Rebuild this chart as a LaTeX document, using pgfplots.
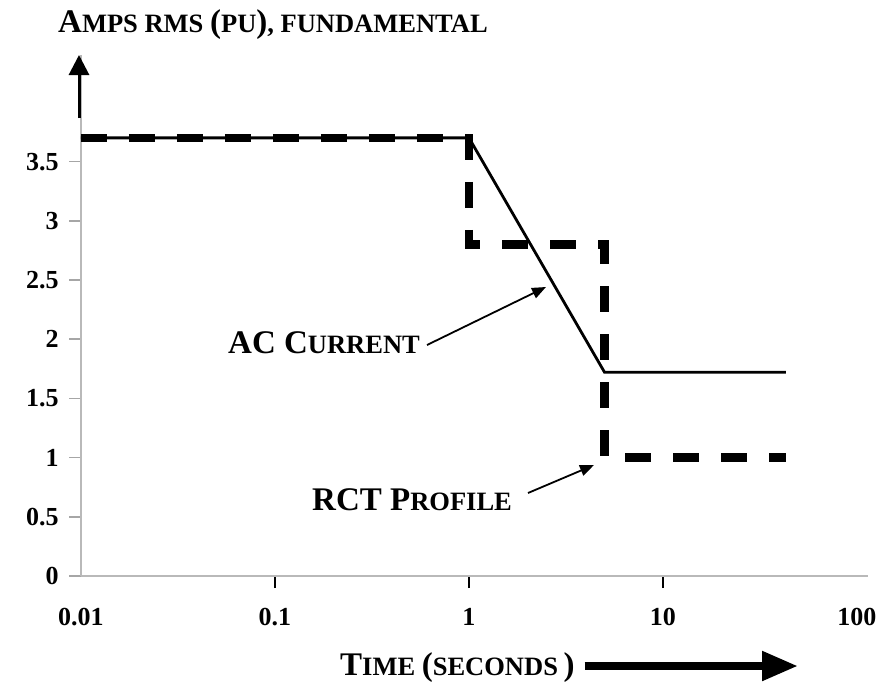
\documentclass[border=0pt]{standalone}
\usepackage{fontspec}
\setmainfont{Liberation Serif}
\usepackage{pgfplots}
\pgfplotsset{compat=1.18}
\usetikzlibrary{arrows.meta}
\newcommand{\BC}[1]{{\fontsize{33}{33}\selectfont #1}}
\newcommand{\SC}[1]{{\fontsize{26.5}{26.5}\selectfont #1}}
\begin{document}
\begin{tikzpicture}
\begin{axis}[
 at={(81pt,-576pt)}, anchor=south west,
 scale only axis, width=787pt, height=521pt,
 xmode=log, xmin=0.01, xmax=114, ymin=0, ymax=4.4,
 axis x line=bottom, axis y line=left,
 axis line style={draw=gray!55, line width=1.6pt, -},
 xtick={0.1,1,10}, xticklabels={0.1,1,10},
 extra x ticks={0.01,100}, extra x tick labels={0.01,100},
 extra x tick style={xtick style={draw=none}},
 xminorticks=false,
 ytick={0,0.5,1,1.5,2,2.5,3,3.5}, yticklabels={0,0.5,1,1.5,2,2.5,3,3.5},
 tick align=outside, major tick length=12pt,
 xtick style={black, line width=2pt},
 ytick style={gray!70, line width=1.5pt},
 ticklabel style={font=\fontsize{26}{26}\selectfont\bfseries},
 xticklabel style={yshift=-17pt},
 yticklabel style={xshift=-7pt},
 clip=false,
]
\addplot[black, line width=2.8pt, line join=miter] coordinates {(0.01,3.7) (1,3.7) (5,1.72) (43,1.72)};
\addplot[black, line width=8.5pt, dash pattern=on 26pt off 22pt] coordinates {(0.01,3.7) (1,3.7) (1,2.8) (5,2.8) (5,1.0) (43,1.0)};
\end{axis}
\draw[black, line width=3pt, -{Triangle[length=20pt,width=20pt]}] (79pt,-118pt) -- (79pt,-55pt);
\node[anchor=base west, inner sep=0pt, font=\bfseries] at (58pt,-32pt) {\BC{A}\SC{MPS RMS }\BC{(}\SC{PU}\BC{)}\SC{,\ FUNDAMENTAL}};
\node[anchor=base west, inner sep=0pt, font=\bfseries] at (228pt,-353pt) {\BC{AC C}\SC{URRENT}};
\draw[line width=1.8pt, -{Triangle[length=14pt,width=11pt]}] (427pt,-345pt) -- (546pt,-287pt);
\node[anchor=base west, inner sep=0pt, font=\bfseries] at (312pt,-510pt) {\BC{RCT P}\SC{ROFILE}};
\draw[line width=1.8pt, -{Triangle[length=14pt,width=11pt]}] (528pt,-493pt) -- (594pt,-465pt);
\node[anchor=base west, inner sep=0pt, font=\bfseries] (tl) at (340pt,-675pt) {\BC{T}\SC{IME }\BC{(}\SC{SECONDS}\BC{\,)}};
\draw[line width=8pt, -{Triangle[length=36pt,width=28pt]}] ([xshift=10pt]tl.base east |- 0,-666pt) -- (798pt,-666pt);
\pgfresetboundingbox
\path (0pt,0pt) rectangle (883pt,-683pt);
\end{tikzpicture}
\end{document}
